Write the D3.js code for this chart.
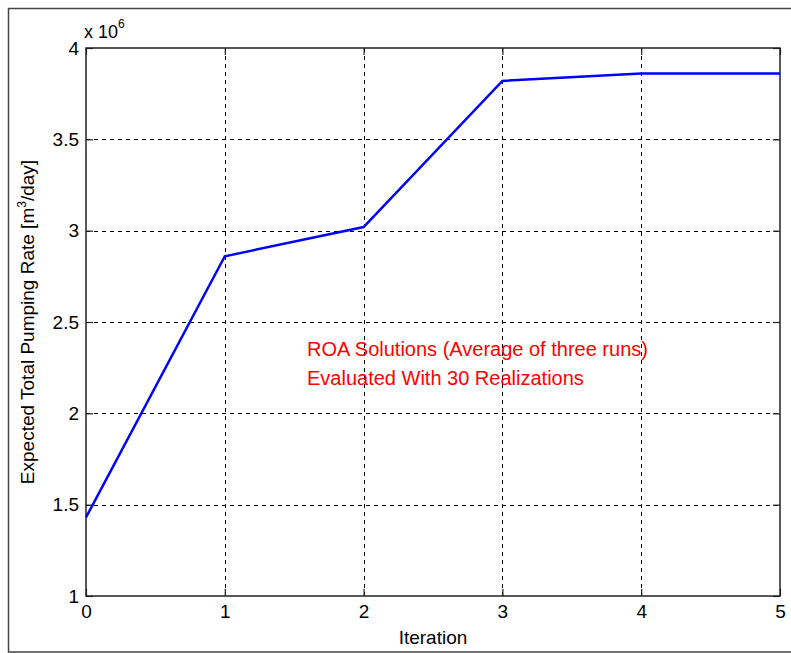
<!DOCTYPE html>
<html>
<head>
<meta charset="utf-8">
<script src="https://cdn.jsdelivr.net/npm/d3@7"></script>
<style>
  body { margin: 0; background: #fff; }
  text { font-family: "Liberation Sans", Arial, sans-serif; }
</style>
</head>
<body>
<div id="chart"></div>
<script>
// data (values in units of 10^6 m3/day)
var iterations = [0, 1, 2, 3, 4, 5];
var pumping = [1.43, 2.86, 3.02, 3.82, 3.86, 3.86];
var xTicks = [0, 1, 2, 3, 4, 5];
var yTicks = [1, 1.5, 2, 2.5, 3, 3.5, 4];
var note = ["ROA Solutions (Average of three runs)", "Evaluated With 30 Realizations"];

var W = 791, H = 653;
var pL = 86, pR = 780, pT = 48, pB = 596;

var svg = d3.select("#chart").append("svg")
	.attr("width", W)
	.attr("height", H);

// outer frame (left, top, bottom only)
svg.append("path")
	.attr("d", "M" + W + ",8.5 H8.5 V652 H" + W)
	.attr("fill", "none")
	.attr("stroke", "#444")
	.attr("stroke-width", 1.5);

var x = d3.scaleLinear().domain([0, 5]).range([pL, pR]);
var y = d3.scaleLinear().domain([1, 4]).range([pB, pT]);

// grid
svg.append("g").selectAll("line")
	.data(xTicks.slice(1, -1))
	.enter()
	.append("line")
	.attr("x1", function(d) { return Math.round(x(d)) + 0.5; })
	.attr("x2", function(d) { return Math.round(x(d)) + 0.5; })
	.attr("y1", pT)
	.attr("y2", pB)
	.attr("stroke", "#000")
	.attr("stroke-dasharray", "4,4");

svg.append("g").selectAll("line")
	.data(yTicks.slice(1, -1))
	.enter()
	.append("line")
	.attr("y1", function(d) { return Math.round(y(d)) + 0.5; })
	.attr("y2", function(d) { return Math.round(y(d)) + 0.5; })
	.attr("x1", pL)
	.attr("x2", pR)
	.attr("stroke", "#000")
	.attr("stroke-dasharray", "4,4");

// axes, ticks inside, mirrored
var tl = 7;
svg.append("g")
	.attr("transform", "translate(0," + pB + ")")
	.call(d3.axisBottom(x).tickValues(xTicks).tickSize(-tl).tickPadding(9).tickFormat(d3.format("d")));
svg.append("g")
	.attr("transform", "translate(0," + pT + ")")
	.call(d3.axisTop(x).tickValues(xTicks).tickSize(-tl).tickFormat(""));
svg.append("g")
	.attr("transform", "translate(" + pL + ",0)")
	.call(d3.axisLeft(y).tickValues(yTicks).tickSize(-tl).tickPadding(7).tickFormat(function(d) { return d; }));
svg.append("g")
	.attr("transform", "translate(" + pR + ",0)")
	.call(d3.axisRight(y).tickValues(yTicks).tickSize(-tl).tickFormat(""));

svg.selectAll(".domain").remove();
svg.selectAll(".tick line").attr("stroke", "#222").attr("stroke-width", 1.2);
svg.selectAll(".tick text").attr("font-size", 19).attr("fill", "#000")
	.attr("font-family", "Liberation Sans, Arial, sans-serif");

// axes box
svg.append("rect")
	.attr("x", pL)
	.attr("y", pT)
	.attr("width", pR - pL)
	.attr("height", pB - pT)
	.attr("fill", "none")
	.attr("stroke", "#222")
	.attr("stroke-width", 1.5);

// line
var line = d3.line()
	.x(function(d, i) { return x(iterations[i]); })
	.y(function(d) { return y(d); });

svg.append("path")
	.datum(pumping)
	.attr("d", line)
	.attr("fill", "none")
	.attr("stroke", "#0000ff")
	.attr("stroke-width", 2.5);

// exponent
var ex = svg.append("text")
	.attr("x", pL - 2)
	.attr("y", 38)
	.attr("font-size", 18)
	.text("x 10");
ex.append("tspan")
	.attr("dy", -10)
	.attr("font-size", 12)
	.text("6");

// labels
svg.append("text")
	.attr("x", (pL + pR) / 2)
	.attr("y", 644)
	.attr("text-anchor", "middle")
	.attr("font-size", 19)
	.text("Iteration");

var yl = svg.append("text")
	.attr("transform", "translate(34," + ((pT + pB) / 2) + ") rotate(-90)")
	.attr("text-anchor", "middle")
	.attr("font-size", 19)
	.text("Expected Total Pumping Rate [m");
yl.append("tspan").attr("dy", -8).attr("font-size", 12).text("3");
yl.append("tspan").attr("dy", 8).text("/day]");

svg.append("g").selectAll("text")
	.data(note)
	.enter()
	.append("text")
	.attr("x", 307)
	.attr("y", function(d, i) { return 356 + i * 29; })
	.attr("font-size", 20)
	.attr("fill", "#ff0000")
	.text(function(d) { return d; });
</script>
</body>
</html>
